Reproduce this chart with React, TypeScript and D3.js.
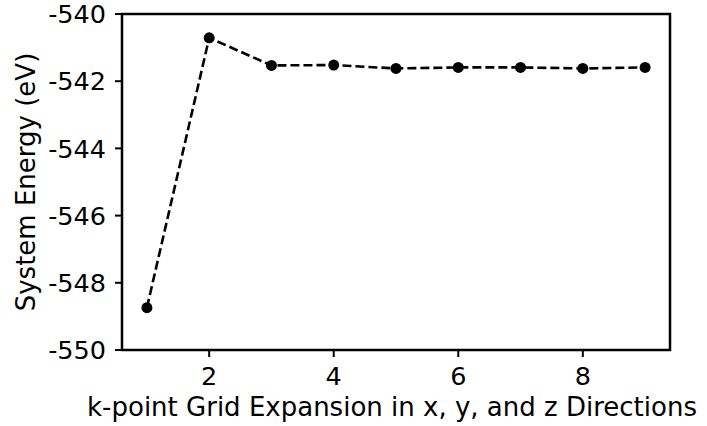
import React from "react";
import * as d3 from "d3";

// k-point grid size along each direction
const gridSizes: number[] = [1, 2, 3, 4, 5, 6, 7, 8, 9];
// total system energy (eV) at each grid size
const energies: number[] = [-548.74, -540.71, -541.53, -541.52, -541.62, -541.59, -541.59, -541.62, -541.59];
const xTicks: number[] = [2, 4, 6, 8];
const yTicks: number[] = [-550, -548, -546, -544, -542, -540];

const W = 707;
const H = 426;
const margin = { left: 122, top: 14, right: 37, bottom: 76 };
const FONT = "DejaVu Sans, sans-serif";

export default function App() {
  const x = d3.scaleLinear().domain([0.6, 9.4]).range([margin.left, W - margin.right]);
  const y = d3.scaleLinear().domain([-550, -540]).range([H - margin.bottom, margin.top]);
  const pts = gridSizes.map((g, i) => [g, energies[i]] as [number, number]);
  const line = d3.line<[number, number]>().x((d) => x(d[0])).y((d) => y(d[1]));
  const x0 = x.range()[0];
  const x1 = x.range()[1];
  const y0 = y.range()[0];
  const y1 = y.range()[1];

  return (
    <svg width={W} height={H} style={{ position: "absolute", left: 0, top: 0, background: "#fff" }}>
      <path d={line(pts) ?? ""} fill="none" stroke="#000" strokeWidth={2.6} strokeDasharray="9 4" />
      {pts.map((d, i) => (
        <circle key={i} cx={x(d[0])} cy={y(d[1])} r={5.5} fill="#000" />
      ))}
      <rect x={x0} y={y1} width={x1 - x0} height={y0 - y1} fill="none" stroke="#000" strokeWidth={2.5} />
      {xTicks.map((t) => (
        <g key={t}>
          <line x1={x(t)} x2={x(t)} y1={y0} y2={y0 + 7} stroke="#000" strokeWidth={2} />
          <text x={x(t)} y={y0 + 35} textAnchor="middle" fontFamily={FONT} fontSize={25.5} fill="#000">
            {t}
          </text>
        </g>
      ))}
      {yTicks.map((t) => (
        <g key={t}>
          <line x1={x0} x2={x0 - 7} y1={y(t)} y2={y(t)} stroke="#000" strokeWidth={2} />
          <text x={x0 - 16} y={y(t)} dy="0.36em" textAnchor="end" fontFamily={FONT} fontSize={25.5} fill="#000">
            {t}
          </text>
        </g>
      ))}
      <text x={(x0 + x1) / 2 - 4} y={H - 10} textAnchor="middle" fontFamily={FONT} fontSize={26} fill="#000">
        k-point Grid Expansion in x, y, and z Directions
      </text>
      <text
        transform={`translate(35,${(y0 + y1) / 2}) rotate(-90)`}
        textAnchor="middle"
        fontFamily={FONT}
        fontSize={26}
        fill="#000"
      >
        System Energy (eV)
      </text>
    </svg>
  );
}
